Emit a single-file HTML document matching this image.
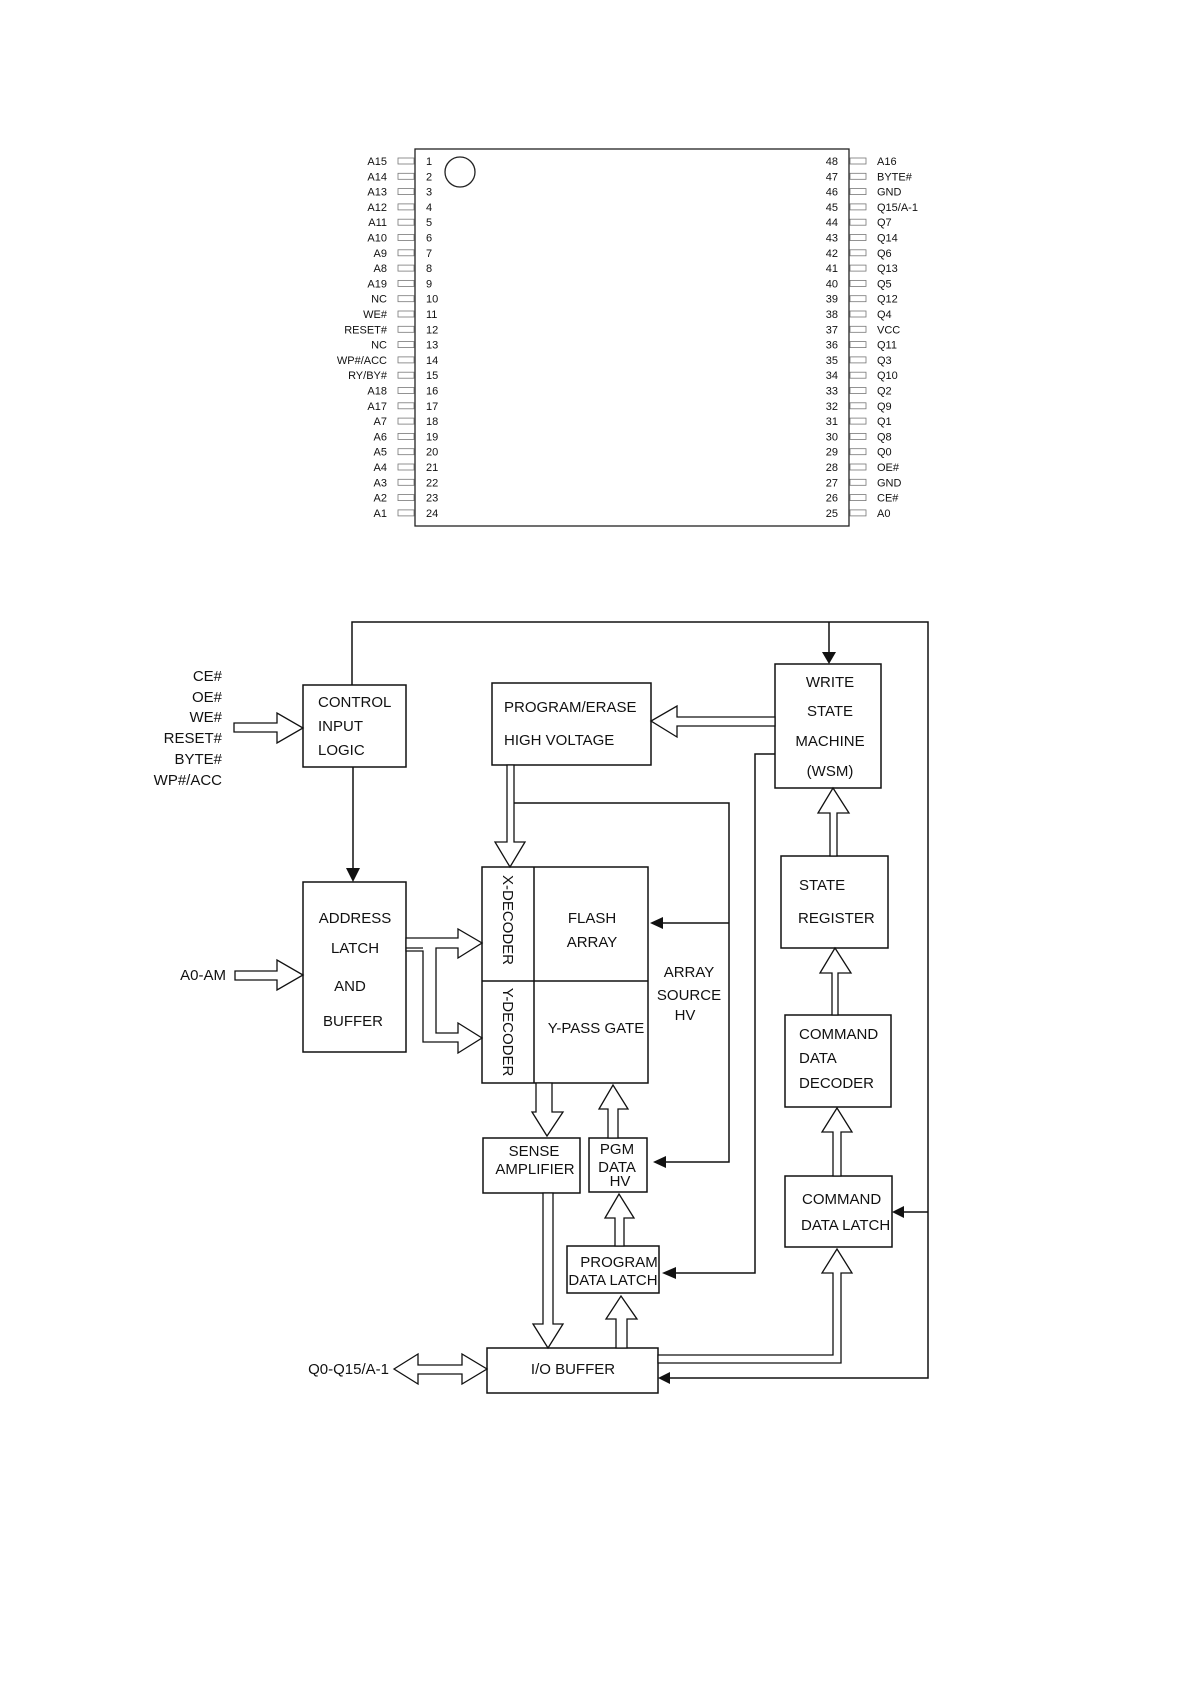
<!DOCTYPE html>
<html><head><meta charset="utf-8"><style>
html,body{margin:0;padding:0;background:#fff}
svg{display:block}
text{font-family:"Liberation Sans",Arial,sans-serif;fill:#111}
.p{font-size:11px}
.b{font-size:15px}
</style></head><body>
<svg width="1191" height="1684" viewBox="0 0 1191 1684" xmlns="http://www.w3.org/2000/svg">
<g fill="none" stroke="#222" stroke-width="1.3">
<rect x="415" y="149" width="434" height="377"/>
<circle cx="460" cy="172" r="15"/>
</g>
<g id="pins" fill="none" stroke="#777" stroke-width="0.8"></g>
<g class="p" id="pl"></g>
<g fill="none" stroke="#111" stroke-width="1.5">
<!-- boxes -->
<rect x="303" y="685" width="103" height="82"/>
<rect x="303" y="882" width="103" height="170"/>
<rect x="492" y="683" width="159" height="82"/>
<rect x="775" y="664" width="106" height="124"/>
<rect x="781" y="856" width="107" height="92"/>
<rect x="785" y="1015" width="106" height="92"/>
<rect x="785" y="1176" width="107" height="71"/>
<rect x="482" y="867" width="166" height="216"/>
<line x1="534" y1="867" x2="534" y2="1083"/>
<line x1="482" y1="981" x2="648" y2="981"/>
<rect x="483" y="1138" width="97" height="55"/>
<rect x="589" y="1138" width="58" height="54"/>
<rect x="567" y="1246" width="92" height="47"/>
<rect x="487" y="1348" width="171" height="45"/>
<!-- lines -->
<polyline points="352,685 352,622 928,622 928,1378 668,1378"/>
<line x1="829" y1="622" x2="829" y2="652"/>
<line x1="353" y1="767" x2="353" y2="868"/>
<polyline points="775,754 755,754 755,1273 676,1273"/>
<polyline points="514,803 729,803 729,1162 666,1162"/>
<line x1="729" y1="923" x2="663" y2="923"/>
<line x1="928" y1="1212" x2="904" y2="1212"/>
</g>
<!-- solid arrowheads -->
<g fill="#111">
<polygon points="822,652 836,652 829,664"/>
<polygon points="346,868 360,868 353,882"/>
<polygon points="663,917 663,929 650,923"/>
<polygon points="666,1156 666,1168 653,1162"/>
<polygon points="676,1267 676,1279 662,1273"/>
<polygon points="904,1206 904,1218 892,1212"/>
<polygon points="670,1372 670,1384 658,1378"/>
</g>
<!-- hollow arrows -->
<g fill="#fff" stroke="#111" stroke-width="1.3">
<polygon points="234,723 277,723 277,713 303,728 277,743 277,732 234,732"/>
<polygon points="235,971 277,971 277,960 303,975 277,990 277,980 235,980"/>
<polygon points="775,717 677,717 677,706 651,721 677,737 677,726 775,726"/>
<polygon points="507,765 514,765 514,842 525,842 510,867 495,842 507,842"/>
<polygon points="830,856 830,813 818,813 833,788 849,813 837,813 837,856"/>
<polygon points="832,1015 832,973 820,973 835,948 851,973 838,973 838,1015"/>
<polygon points="833,1176 833,1132 822,1132 837,1108 852,1132 841,1132 841,1176"/>
<polygon points="536,1083 552,1083 552,1112 563,1112 547,1136 532,1112 536,1112"/>
<polygon points="543,1193 553,1193 553,1324 563,1324 548,1348 533,1324 543,1324"/>
<polygon points="608,1138 608,1109 599,1109 613,1085 628,1109 618,1109 618,1138"/>
<polygon points="615,1246 615,1218 605,1218 619,1194 634,1218 624,1218 624,1246"/>
<polygon points="616,1348 616,1319 606,1319 621,1296 637,1319 627,1319 627,1348"/>
<polygon points="394,1369 418,1354 418,1365 462,1365 462,1354 487,1369 462,1384 462,1374 418,1374 418,1384"/>
<polygon points="406,938 458,938 458,929 482,943 458,958 458,948 436,948 436,1033 458,1033 458,1023 482,1038 458,1053 458,1042 423,1042 423,951 406,951"/>
<polygon points="658,1355 833,1355 833,1273 822,1273 837,1249 852,1273 841,1273 841,1363 658,1363"/>
</g>
<line x1="406" y1="948" x2="423" y2="948" stroke="#111" stroke-width="1.3"/>
<g class="b" text-anchor="end">
<text x="222" y="681">CE#</text><text x="222" y="702">OE#</text><text x="222" y="722">WE#</text>
<text x="222" y="743">RESET#</text><text x="222" y="764">BYTE#</text><text x="222" y="785">WP#/ACC</text>
<text x="226" y="980">A0-AM</text>
<text x="389" y="1374">Q0-Q15/A-1</text>
</g>
<g class="b">
<text x="318" y="707">CONTROL</text><text x="318" y="731">INPUT</text><text x="318" y="755">LOGIC</text>
<text x="504" y="712">PROGRAM/ERASE</text><text x="504" y="745">HIGH VOLTAGE</text>
<text x="799" y="890">STATE</text><text x="798" y="923">REGISTER</text>
<text x="799" y="1039">COMMAND</text><text x="799" y="1063">DATA</text><text x="799" y="1088">DECODER</text>
<text x="802" y="1204">COMMAND</text><text x="801" y="1230">DATA LATCH</text>
</g>
<g class="b" text-anchor="middle">
<text x="355" y="923">ADDRESS</text><text x="355" y="953">LATCH</text><text x="350" y="991">AND</text><text x="353" y="1026">BUFFER</text>
<text x="830" y="687">WRITE</text><text x="830" y="716">STATE</text><text x="830" y="746">MACHINE</text><text x="830" y="776">(WSM)</text>
<text x="592" y="923">FLASH</text><text x="592" y="947">ARRAY</text>
<text x="596" y="1033">Y-PASS GATE</text>
<text x="689" y="977">ARRAY</text><text x="689" y="1000">SOURCE</text><text x="685" y="1020">HV</text>
<text x="534" y="1156">SENSE</text><text x="535" y="1174">AMPLIFIER</text>
<text x="617" y="1154">PGM</text><text x="617" y="1172">DATA</text><text x="620" y="1186">HV</text>
<text x="619" y="1267">PROGRAM</text><text x="613" y="1285">DATA LATCH</text>
<text x="573" y="1374">I/O BUFFER</text>
<text transform="translate(503,920) rotate(90)">X-DECODER</text>
<text transform="translate(503,1032) rotate(90)">Y-DECODER</text>
</g>
<script>
var L=["A15","A14","A13","A12","A11","A10","A9","A8","A19","NC","WE#","RESET#","NC","WP#/ACC","RY/BY#","A18","A17","A7","A6","A5","A4","A3","A2","A1"];
var R=["A16","BYTE#","GND","Q15/A-1","Q7","Q14","Q6","Q13","Q5","Q12","Q4","VCC","Q11","Q3","Q10","Q2","Q9","Q1","Q8","Q0","OE#","GND","CE#","A0"];
var ns="http://www.w3.org/2000/svg",g=document.getElementById("pins"),t=document.getElementById("pl");
function tx(x,y,s,a){var e=document.createElementNS(ns,"text");e.setAttribute("x",x);e.setAttribute("y",y);if(a)e.setAttribute("text-anchor",a);e.textContent=s;t.appendChild(e);}
function rc(x,y){var e=document.createElementNS(ns,"rect");e.setAttribute("x",x);e.setAttribute("y",y);e.setAttribute("width",16);e.setAttribute("height",6);g.appendChild(e);}
for(var i=0;i<24;i++){var y=161+i*15.3;
tx(387,y+4,L[i],"end");rc(398,y-3);tx(426,y+4,String(i+1));
tx(838,y+4,String(48-i),"end");rc(850,y-3);tx(877,y+4,R[i]);}
</script>
</svg>
</body></html>
